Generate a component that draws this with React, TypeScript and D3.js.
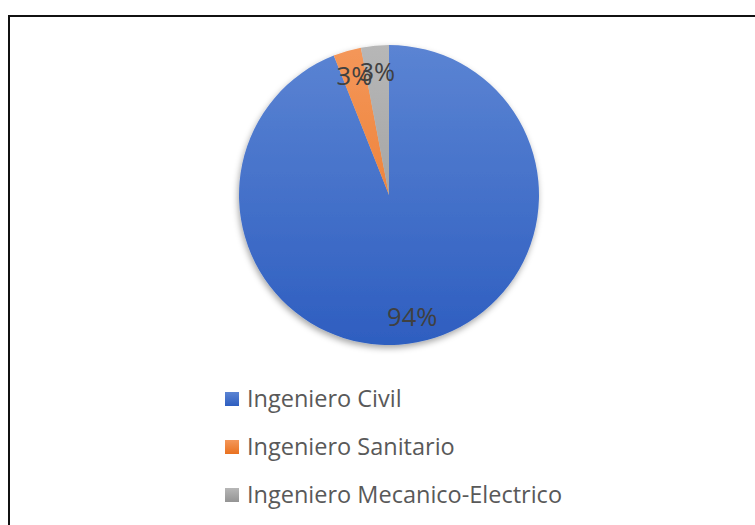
import React, { useEffect, useRef } from 'react'
import * as d3 from 'd3'

const categories = ['Ingeniero Civil', 'Ingeniero Sanitario', 'Ingeniero Mecanico-Electrico']
const shares = [94, 3, 3]
const labels = ['94%', '3%', '3%']
const colors = [
  ['#5b84d3', '#2e5ec0'],
  ['#f4975a', '#e9711f'],
  ['#b7b7b7', '#949494']
]

const App: React.FC = () => {
  const svgRef = useRef<SVGSVGElement>(null)

  useEffect(() => {
    if (!svgRef.current) return
    const svg = d3.select(svgRef.current)
    svg.selectAll('*').remove()

    const cx = 389
    const cy = 195
    const radius = 150
    const font = '"Open Sans", Lato, sans-serif'

    const defs = svg.append('defs')
    colors.forEach((c, i) => {
      // pie slices sit in a group centred at (cx, cy)
      const grad = defs.append('linearGradient')
        .attr('id', `pie-grad-${i}`)
        .attr('gradientUnits', 'userSpaceOnUse')
        .attr('x1', 0).attr('y1', -radius)
        .attr('x2', 0).attr('y2', radius)
      grad.append('stop').attr('offset', '0%').attr('stop-color', c[0])
      grad.append('stop').attr('offset', '100%').attr('stop-color', c[1])

      const lg = defs.append('linearGradient')
        .attr('id', `leg-grad-${i}`)
        .attr('x1', 0).attr('y1', 0).attr('x2', 0).attr('y2', 1)
      lg.append('stop').attr('offset', '0%').attr('stop-color', c[0])
      lg.append('stop').attr('offset', '100%').attr('stop-color', c[1])
    })

    const shadow = defs.append('filter')
      .attr('id', 'pie-shadow')
      .attr('x', '-20%').attr('y', '-20%')
      .attr('width', '140%').attr('height', '140%')
    shadow.append('feDropShadow')
      .attr('dx', -1).attr('dy', 3)
      .attr('stdDeviation', 3)
      .attr('flood-color', '#000')
      .attr('flood-opacity', 0.35)

    // frame
    svg.append('rect')
      .attr('x', 9).attr('y', 16)
      .attr('width', 800).attr('height', 600)
      .attr('fill', 'none')
      .attr('stroke', '#111')
      .attr('stroke-width', 2)

    const pie = d3.pie<number>().sort(null).value(d => d)
    const arcs = pie(shares)
    const arc = d3.arc<d3.PieArcDatum<number>>().innerRadius(0).outerRadius(radius)
    const labelArc = d3.arc<d3.PieArcDatum<number>>().innerRadius(124 * 2).outerRadius(0)

    const g = svg.append('g').attr('transform', `translate(${cx},${cy})`)

    g.append('g')
      .attr('filter', 'url(#pie-shadow)')
      .selectAll('path')
      .data(arcs)
      .enter()
      .append('path')
      .attr('d', arc)
      .attr('fill', (d, i) => `url(#pie-grad-${i})`)

    g.selectAll('.pie-label')
      .data(arcs)
      .enter()
      .append('text')
      .attr('class', 'pie-label')
      .attr('transform', d => {
        const [x, y] = labelArc.centroid(d)
        return `translate(${x},${y})`
      })
      .attr('text-anchor', 'middle')
      .attr('dy', '0.36em')
      .style('font-family', font)
      .style('font-size', '25.5px')
      .style('fill', '#404040')
      .text((d, i) => labels[i])

    // legend
    const legend = svg.append('g').attr('transform', 'translate(225, 399)')
    const items = legend.selectAll('.legend-item')
      .data(categories)
      .enter()
      .append('g')
      .attr('class', 'legend-item')
      .attr('transform', (d, i) => `translate(0, ${i * 48})`)

    items.append('rect')
      .attr('x', 0).attr('y', -7)
      .attr('width', 14).attr('height', 14)
      .attr('fill', (d, i) => `url(#leg-grad-${i})`)

    items.append('text')
      .attr('x', 22)
      .attr('y', 8)
      .style('font-family', font)
      .style('font-size', '23.5px')
      .style('fill', '#595959')
      .text(d => d)
  }, [])

  return (
    <svg
      ref={svgRef}
      width={755}
      height={525}
      style={{ position: 'absolute', left: 0, top: 0, background: '#fff' }}
    ></svg>
  )
}

export default App
